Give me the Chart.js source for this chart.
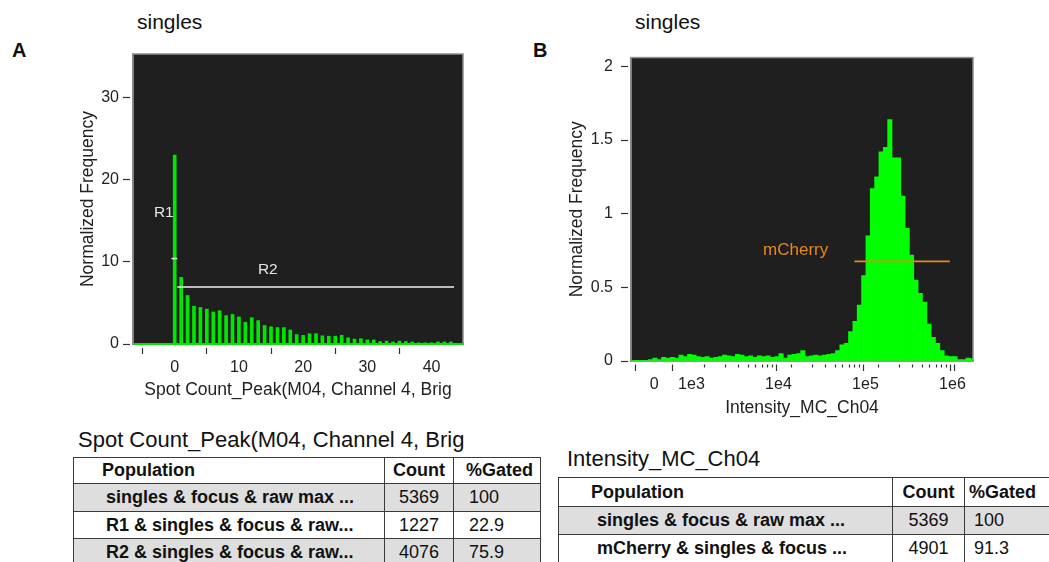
<!DOCTYPE html>
<html>
<head>
<meta charset="utf-8">
<script src="https://cdn.jsdelivr.net/npm/chart.js@4"></script>
<style>
  body {
    margin: 0;
    width: 1049px;
    height: 562px;
    overflow: hidden;
    position: relative;
    background: #fff;
    color: #111;
    font-family: "Liberation Sans", Arial, sans-serif;
  }
  .abs { position: absolute; white-space: nowrap; }
  .letter { font-weight: bold; font-size: 20px; line-height: 22px; }
  .plotTitle { font-size: 21px; line-height: 24px; }
  .tblTitle { font-size: 22px; line-height: 26px; }
  .box { position: absolute; }
  table.stats {
    position: absolute;
    border-collapse: collapse;
    table-layout: fixed;
    font-size: 18px;
  }
  table.stats td {
    border: 1px solid #3a3a3a;
    padding: 0;
    white-space: nowrap;
    overflow: hidden;
  }
  table.stats tr.gray td { background: #dedede; }
  table.stats td.pop { font-weight: bold; }
  table.stats td.cnt { text-align: center; }
  table.stats tr.hdr td { font-weight: bold; }
</style>
</head>
<body>

<div class="abs letter" style="left:12px; top:39px;">A</div>
<div class="abs plotTitle" style="left:137px; top:10px;">singles</div>
<div class="abs letter" style="left:533px; top:39px;">B</div>
<div class="abs plotTitle" style="left:635px; top:10px;">singles</div>

<div class="box" style="left:40px; top:40px; width:440px; height:380px;">
  <canvas id="spotChart"></canvas>
</div>
<div class="box" style="left:530px; top:40px; width:470px; height:390px;">
  <canvas id="mcChart"></canvas>
</div>

<div class="abs tblTitle" style="left:78px; top:427px;">Spot Count_Peak(M04, Channel 4, Brig</div>
<table class="stats" id="tableA" style="left:73px; top:457px; width:467px;"></table>

<div class="abs tblTitle" style="left:567px; top:446px;">Intensity_MC_Ch04</div>
<table class="stats" id="tableB" style="left:558px; top:477px; width:501px;"></table>

<script>
// ---- Panel A: Spot Count_Peak histogram ----
const spotCounts = [0, 1, 2, 3, 4, 5, 6, 7, 8, 9, 10, 11, 12, 13, 14, 15, 16, 17, 18, 19, 20, 21,
  22, 23, 24, 25, 26, 27, 28, 29, 30, 31, 32, 33, 34, 35, 36, 37, 38, 39, 40, 41, 42, 43];
const spotFreq = [23.0, 8.1, 5.9, 4.6, 4.45, 4.25, 3.9, 4.05, 3.45, 3.6, 3.3, 2.65, 3.2, 2.85,
  2.25, 2.1, 2.0, 2.0, 1.7, 1.15, 1.05, 1.25, 1.25, 1.0, 0.95, 0.95, 1.05, 0.75, 0.6, 0.65,
  0.5, 0.5, 0.3, 0.35, 0.25, 0.35, 0.3, 0.25, 0.15, 0.15, 0.15, 0.25, 0.25, 0.25];
const spotXTicks = [0, 10, 20, 30, 40];
const spotYTicks = [0, 10, 20, 30];
// gates: [x start, x end, y]
const gateR1 = [-0.5, 0.4, 10.4];
const gateR2 = [0.4, 43.5, 6.95];
const spotLabels = [
  { text: "R1", x: -1.7, y: 16.0 },
  { text: "R2", x: 14.5, y: 9.1 }
];

// ---- Panel B: Intensity_MC_Ch04 histogram (x in decades, display scale) ----
const mcBinStart = 2.305;
const mcBinWidth = 0.05;
const mcFreq = [
  0.005, 0.005, 0.005, 0.005, 0.01, 0.02, 0.01, 0.025, 0.02, 0.025,
  0.02, 0.04, 0.03, 0.045, 0.04, 0.03, 0.025, 0.03, 0.02, 0.025,
  0.03, 0.04, 0.035, 0.03, 0.045, 0.04, 0.03, 0.035, 0.025, 0.035,
  0.03, 0.035, 0.025, 0.03, 0.05, 0.02, 0.04, 0.045, 0.05, 0.07,
  0.03, 0.035, 0.04, 0.035, 0.04, 0.045, 0.05, 0.07, 0.11, 0.12,
  0.2, 0.27, 0.38, 0.58, 0.85, 1.17, 1.25, 1.42, 1.45, 1.64,
  1.38, 1.38, 1.12, 0.9, 0.72, 0.55, 0.46, 0.4, 0.25, 0.16,
  0.12, 0.07, 0.035, 0.03, 0.03, 0.01, 0.01, 0.02, 0.015
];
const mcXTicks = [2.572, 3, 4, 5, 6];
const mcXTickLabels = ["0", "1e3", "1e4", "1e5", "1e6"];
const mcYTicks = [0, 0.5, 1, 1.5, 2];
const gateMCherry = [4.873, 5.969, 0.676];
const mcLabels = [{ text: "mCherry", x: 4.198, y: 0.75 }];

// ---- Tables ----
const tableHeader = ["Population", "Count", "%Gated"];
const popsA = ["singles & focus & raw max ...", "R1 & singles & focus & raw...", "R2 & singles & focus & raw..."];
const countsA = [5369, 1227, 4076];
const gatedA = ["100", "22.9", "75.9"];
const popsB = ["singles & focus & raw max ...", "mCherry & singles & focus ..."];
const countsB = [5369, 4901];
const gatedB = ["100", "91.3"];

Chart.defaults.font.family = '"Liberation Sans", Arial, sans-serif';
Chart.defaults.color = "#222";

// dark plot background and grey frame
const framePlugin = {
  id: "frame",
  beforeDraw(chart) {
    const { ctx, chartArea: a } = chart;
    ctx.save();
    ctx.fillStyle = "#1f1f1f";
    ctx.fillRect(a.left, a.top, a.width, a.height);
    ctx.strokeStyle = "#8c8c8c";
    ctx.lineWidth = 1.5;
    ctx.strokeRect(a.left, a.top, a.width, a.height);
    ctx.restore();
  }
};

// gate names drawn at data positions
const gateLabelPlugin = {
  id: "gateLabels",
  afterDatasetsDraw(chart, args, opts) {
    const { ctx, scales } = chart;
    ctx.save();
    ctx.font = opts.font;
    ctx.fillStyle = opts.color;
    ctx.textAlign = "center";
    ctx.textBaseline = "middle";
    opts.items.forEach(function (it) {
      ctx.fillText(it.text, scales.x.getPixelForValue(it.x), scales.y.getPixelForValue(it.y));
    });
    ctx.restore();
  }
};

function tickGrid(isBottom) {
  return {
    drawOnChartArea: false,
    drawTicks: true,
    tickLength: 10,
    tickColor: "#333",
    tickWidth: 1.2,
    // leave a small gap between tick mark and frame
    tickBorderDash: (c) => (c.tick && c.tick.minor ? [3, 17] : [7, 3]),
    tickBorderDashOffset: (c) => (isBottom ? (c.tick && c.tick.minor ? 17 : 7) : 0)
  };
}

// Chart A
const spotData = spotCounts.map((v, i) => ({ x: v, y: spotFreq[i] }));
new Chart(document.getElementById("spotChart"), {
  type: "bar",
  data: {
    datasets: [
      {
        type: "line",
        data: [{ x: gateR1[0], y: gateR1[2] }, { x: gateR1[1], y: gateR1[2] }],
        borderColor: "#f0f0f0",
        borderWidth: 1.5,
        pointRadius: 0,
        order: 0
      },
      {
        type: "line",
        data: [{ x: gateR2[0], y: gateR2[2] }, { x: gateR2[1], y: gateR2[2] }],
        borderColor: "#f0f0f0",
        borderWidth: 1.5,
        pointRadius: 0,
        order: 0
      },
      {
        data: spotData,
        backgroundColor: "#00e600",
        barThickness: 3,
        order: 1
      }
    ]
  },
  options: {
    responsive: true,
    maintainAspectRatio: false,
    animation: false,
    devicePixelRatio: 1,
    layout: { padding: { top: 14, right: 17, bottom: 0, left: 0 } },
    plugins: {
      legend: { display: false },
      tooltip: { enabled: false },
      gateLabels: { items: spotLabels, font: "15.5px 'Liberation Sans', Arial, sans-serif", color: "#e6e6e6" }
    },
    scales: {
      x: {
        type: "linear",
        min: -6.5,
        max: 44.9,
        offset: false,
        afterBuildTicks: (s) => { s.ticks = spotXTicks.map((v) => ({ value: v })); },
        afterFit: (s) => { s.height = 76; },
        grid: tickGrid(true),
        border: { color: "#00e600", width: 2 },
        ticks: { font: { size: 16 }, color: "#222", padding: 4, autoSkip: false, maxRotation: 0 },
        title: {
          display: true,
          text: "Spot Count_Peak(M04, Channel 4, Brig",
          font: { size: 17.5 },
          color: "#222",
          padding: { top: 0, bottom: 19 }
        }
      },
      y: {
        min: 0,
        max: 35.3,
        afterBuildTicks: (s) => { s.ticks = spotYTicks.map((v) => ({ value: v })); },
        afterFit: (s) => { s.width = 93; },
        grid: tickGrid(false),
        border: { color: "#8c8c8c", width: 1.5 },
        ticks: { font: { size: 16 }, color: "#222", padding: 4, callback: (v) => String(v) },
        title: {
          display: true,
          text: "Normalized Frequency",
          font: { size: 17.5 },
          color: "#222",
          padding: { top: 37.5, bottom: 0 }
        }
      }
    }
  },
  plugins: [framePlugin, gateLabelPlugin]
});

// Chart B
const mcData = mcFreq.map((v, i) => ({ x: mcBinStart + mcBinWidth * (i + 0.5), y: v }));
const mcMinor = [];
[3, 4, 5].forEach(function (d) {
  for (let k = 2; k <= 9; k++) mcMinor.push(d + Math.log10(k));
});

new Chart(document.getElementById("mcChart"), {
  type: "bar",
  data: {
    datasets: [
      {
        type: "line",
        data: [{ x: gateMCherry[0], y: gateMCherry[2] }, { x: gateMCherry[1], y: gateMCherry[2] }],
        borderColor: "#e8891c",
        borderWidth: 1.8,
        pointRadius: 0,
        order: 0
      },
      {
        data: mcData,
        backgroundColor: "#00ff00",
        barThickness: "flex",
        barPercentage: 1,
        categoryPercentage: 1,
        order: 1
      }
    ]
  },
  options: {
    responsive: true,
    maintainAspectRatio: false,
    animation: false,
    devicePixelRatio: 1,
    layout: { padding: { top: 16, right: 27, bottom: 0, left: 0 } },
    plugins: {
      legend: { display: false },
      tooltip: { enabled: false },
      gateLabels: { items: mcLabels, font: "17px 'Liberation Sans', Arial, sans-serif", color: "#e8891c" }
    },
    scales: {
      x: {
        type: "linear",
        min: 2.305,
        max: 6.236,
        offset: false,
        afterBuildTicks: (s) => {
          const t = mcXTicks.map((v) => ({ value: v }));
          mcMinor.forEach((v) => t.push({ value: v, minor: true }));
          t.sort((a, b) => a.value - b.value);
          s.ticks = t;
        },
        afterFit: (s) => { s.height = 69; },
        grid: tickGrid(true),
        border: { color: "#8c8c8c", width: 1.5 },
        ticks: {
          font: { size: 16 },
          color: "#222",
          padding: 4,
          autoSkip: false,
          maxRotation: 0,
          callback: (v) => {
            const k = mcXTicks.indexOf(v);
            return k >= 0 ? mcXTickLabels[k] : "";
          }
        },
        title: {
          display: true,
          text: "Intensity_MC_Ch04",
          font: { size: 17.5 },
          color: "#222",
          padding: { top: 0, bottom: 11.5 }
        }
      },
      y: {
        min: 0,
        max: 2.06,
        afterBuildTicks: (s) => { s.ticks = mcYTicks.map((v) => ({ value: v })); },
        afterFit: (s) => { s.width = 101; },
        grid: tickGrid(false),
        border: { color: "#8c8c8c", width: 1.5 },
        ticks: { font: { size: 16 }, color: "#222", padding: 8, callback: (v) => String(v) },
        title: {
          display: true,
          text: "Normalized Frequency",
          font: { size: 17.5 },
          color: "#222",
          padding: { top: 36.5, bottom: 0 }
        }
      }
    }
  },
  plugins: [framePlugin, gateLabelPlugin]
});

// Build the statistics tables
function buildTable(id, colWidths, rowHeights, pads, pops, counts, gated) {
  const table = document.getElementById(id);
  let html = "<colgroup>";
  colWidths.forEach((w) => { html += '<col style="width:' + w + 'px">'; });
  html += "</colgroup>";
  html += '<tr class="hdr" style="height:' + rowHeights[0] + 'px">' +
    '<td style="padding-left:' + pads[0] + 'px">' + tableHeader[0] + "</td>" +
    '<td class="cnt">' + tableHeader[1] + "</td>" +
    '<td style="padding-left:' + pads[2] + 'px">' + tableHeader[2] + "</td></tr>";
  pops.forEach(function (p, i) {
    const cls = i % 2 === 0 ? "gray" : "";
    html += '<tr class="' + cls + '" style="height:' + rowHeights[i + 1] + 'px">' +
      '<td class="pop" style="padding-left:' + pads[1] + 'px">' + p + "</td>" +
      '<td class="cnt">' + counts[i] + "</td>" +
      '<td style="padding-left:' + pads[3] + 'px">' + gated[i] + "</td></tr>";
  });
  table.innerHTML = html;
}

buildTable("tableA", [311, 69, 87], [26, 28, 27, 27], [28, 32, 12, 15], popsA, countsA, gatedA);
buildTable("tableB", [334, 72, 95], [29, 28, 28], [32, 38, 4, 9], popsB, countsB, gatedB);
</script>
</body>
</html>
